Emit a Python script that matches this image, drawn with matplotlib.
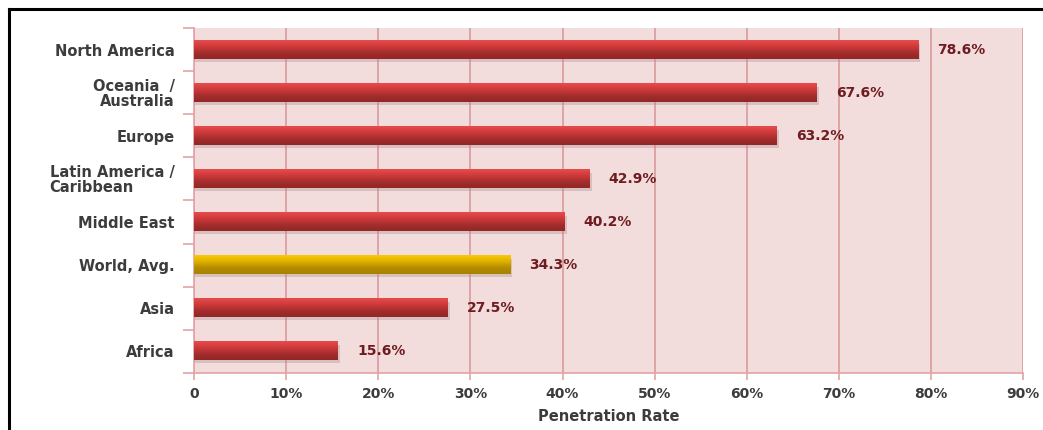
import numpy as np
import matplotlib.pyplot as plt
from matplotlib.colors import LinearSegmentedColormap
from matplotlib.lines import Line2D

# Internet penetration by world region
regions = ["North America", "Oceania  /\nAustralia", "Europe",
           "Latin America /\nCaribbean", "Middle East", "World, Avg.",
           "Asia", "Africa"]
rates = [78.6, 67.6, 63.2, 42.9, 40.2, 34.3, 27.5, 15.6]
highlight = "World, Avg."
x_ticks = [0, 10, 20, 30, 40, 50, 60, 70, 80, 90]
x_tick_labels = ["0", "10%", "20%", "30%", "40%", "50%", "60%", "70%", "80%", "90%"]
x_title = "Penetration Rate"

BG = "#f2dcdc"
GRID = "#d99a9c"
SPINE = "#e3a3a5"
TEXT = "#3c3c3c"
VALUE = "#6e1c1f"

red_cmap = LinearSegmentedColormap.from_list("red", ["#e64c4c", "#cf3a3a", "#a52d2d", "#922626"])
gold_cmap = LinearSegmentedColormap.from_list("gold", ["#f9cb00", "#e0b000", "#b48c00", "#a88300"])

fig = plt.figure(figsize=(10.43, 4.30), dpi=100)
fig.patch.set_facecolor("white")
ax = fig.add_axes([0.186, 0.1326, 0.795, 0.8023])
ax.set_facecolor(BG)

n = len(regions)
ypos = np.arange(n)[::-1]
h = 0.42
grad = np.linspace(0, 1, 64).reshape(-1, 1)

for y, name, v in zip(ypos, regions, rates):
    cmap = gold_cmap if name == highlight else red_cmap
    # soft drop shadow beneath each bar
    ax.barh(y - 0.07, v + 0.25, height=h, left=0, color="#a88c8c", alpha=0.35,
            zorder=2, linewidth=0)
    ax.imshow(grad, cmap=cmap, aspect="auto", origin="upper",
              extent=(0, v, y - h / 2, y + h / 2), zorder=3, interpolation="bilinear")
    ax.annotate(f"{v:.1f}%", xy=(v, y), xytext=(14, 0), textcoords="offset points",
                ha="left", va="center", fontsize=10, fontweight="bold", color=VALUE,
                zorder=4)

ax.set_xlim(0, 90)
ax.set_ylim(-0.5, n - 0.5)

ax.set_xticks(x_ticks)
ax.set_xticklabels(x_tick_labels, fontsize=10, fontweight="bold", color=TEXT)
ax.tick_params(axis="x", length=5, width=1.2, color=SPINE, pad=5)

ax.set_yticks(ypos)
ax.set_yticklabels(regions, fontsize=10.5, fontweight="bold", color=TEXT,
                   linespacing=1.0)
ax.tick_params(axis="y", which="major", length=0, pad=14)
ax.set_yticks(np.arange(-0.5, n, 1.0), minor=True)
ax.tick_params(axis="y", which="minor", length=8, width=1.2, color=SPINE)
for lab, name in zip(ax.get_yticklabels(), regions):
    if name.startswith("Latin"):
        lab.set_multialignment("left")
    else:
        lab.set_multialignment("right")

ax.grid(axis="x", color=GRID, linewidth=1.2, zorder=1)
ax.set_axisbelow(True)
for side in ("top", "right"):
    ax.spines[side].set_visible(False)
for side in ("left", "bottom"):
    ax.spines[side].set_color(SPINE)
    ax.spines[side].set_linewidth(1.2)

ax.set_xlabel(x_title, fontsize=10.5, fontweight="bold", color=TEXT, labelpad=6)

# black frame along the top and left edges
fig.add_artist(Line2D([9 / 1043, 1.0], [1 - 9 / 430, 1 - 9 / 430], color="black", linewidth=2.2))
fig.add_artist(Line2D([9 / 1043, 9 / 1043], [0.0, 1 - 9 / 430], color="black", linewidth=2.2))

fig.savefig("out.png", dpi=100)
